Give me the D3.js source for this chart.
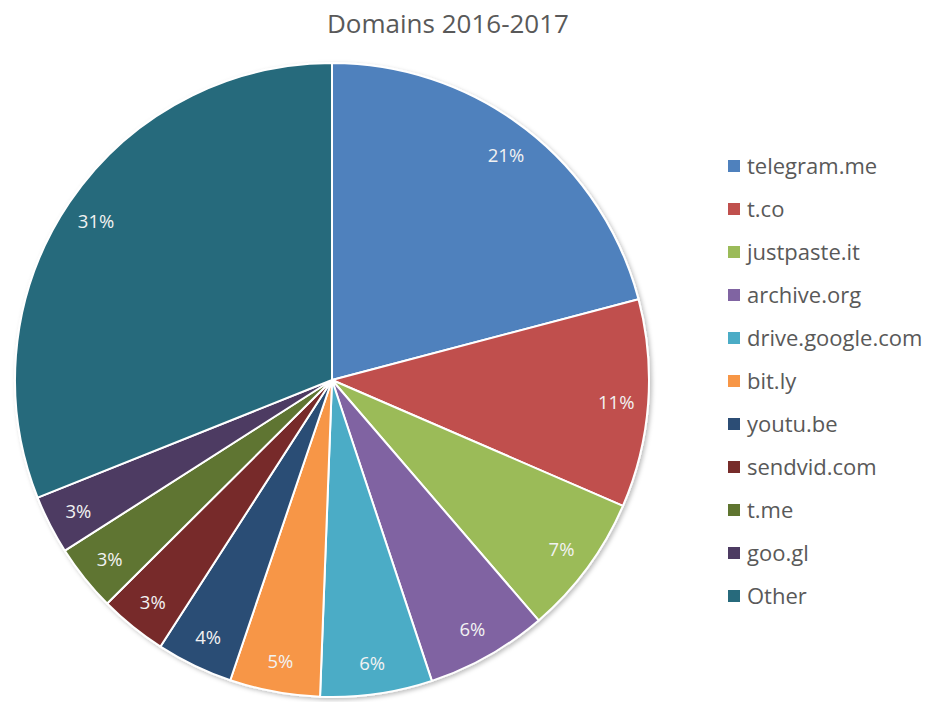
<html lang="en">
<head>
<meta charset="UTF-8">
<title>Domains 2016-2017</title>
<script src="https://d3js.org/d3.v7.min.js"></script>
<style>
    body { margin: 0; background: #fff; }
    text { font-family: "Open Sans", "Noto Sans", sans-serif; }
</style>
</head>
<body>
<svg width="944" height="702"></svg>
<script>
    const domains = ["telegram.me", "t.co", "justpaste.it", "archive.org", "drive.google.com",
                     "bit.ly", "youtu.be", "sendvid.com", "t.me", "goo.gl", "Other"];
    const shares = [20.9, 10.6, 7.2, 6.2, 5.7, 4.6, 3.9, 3.45, 3.4, 3.0, 31.05];
    const colors = ["#4F81BD", "#C0504D", "#9BBB59", "#8064A2", "#4BACC6", "#F79646",
                    "#2C4D75", "#772C2A", "#5F7530", "#4D3B62", "#276A7C"];

    const data = domains.map((d, i) => ({name: d, value: shares[i]}));

    const svg = d3.select("svg");
    const cx = 332, cy = 380, radius = 317;

    // soft shadow like the office chart
    const defs = svg.append("defs");
    defs.append("filter")
        .attr("id", "shadow")
        .attr("x", "-10%").attr("y", "-10%")
        .attr("width", "120%").attr("height", "120%")
      .append("feDropShadow")
        .attr("dx", 2).attr("dy", 2)
        .attr("stdDeviation", 2)
        .attr("flood-color", "#000")
        .attr("flood-opacity", 0.25);

    svg.append("text")
        .attr("x", 448)
        .attr("y", 33)
        .attr("text-anchor", "middle")
        .attr("font-size", "26px")
        .attr("fill", "#595959")
        .text("Domains 2016-2017");

    const color = d3.scaleOrdinal().domain(domains).range(colors);

    const pie = d3.pie()
        .value(d => d.value)
        .sort(null);

    const arc = d3.arc().innerRadius(0).outerRadius(radius);
    const labelArc = d3.arc().innerRadius(285).outerRadius(285);

    const total = d3.sum(shares);
    const arcs = pie(data);

    const g = svg.append("g")
        .attr("transform", `translate(${cx},${cy})`);

    g.append("g")
        .attr("filter", "url(#shadow)")
      .selectAll("path")
      .data(arcs)
      .join("path")
        .attr("d", arc)
        .attr("fill", d => color(d.data.name))
        .attr("stroke", "#fff")
        .attr("stroke-width", 2)
        .attr("stroke-linejoin", "round");

    g.selectAll(".pct")
      .data(arcs)
      .join("text")
        .attr("class", "pct")
        .attr("transform", d => `translate(${labelArc.centroid(d)})`)
        .attr("text-anchor", "middle")
        .attr("dominant-baseline", "central")
        .attr("font-size", "18.5px")
        .attr("fill", "#f2f2f2")
        .text(d => Math.round(d.data.value / total * 100) + "%");

    // legend
    const legend = svg.append("g")
        .attr("transform", "translate(728,166)");

    const item = legend.selectAll("g")
      .data(domains)
      .join("g")
        .attr("transform", (d, i) => `translate(0,${i * 43})`);

    item.append("rect")
        .attr("x", 0)
        .attr("y", -6)
        .attr("width", 12)
        .attr("height", 12)
        .attr("fill", d => color(d));

    item.append("text")
        .attr("x", 19)
        .attr("y", -1)
        .attr("dominant-baseline", "central")
        .attr("font-size", "22px")
        .attr("fill", "#595959")
        .text(d => d);
</script>
</body>
</html>
